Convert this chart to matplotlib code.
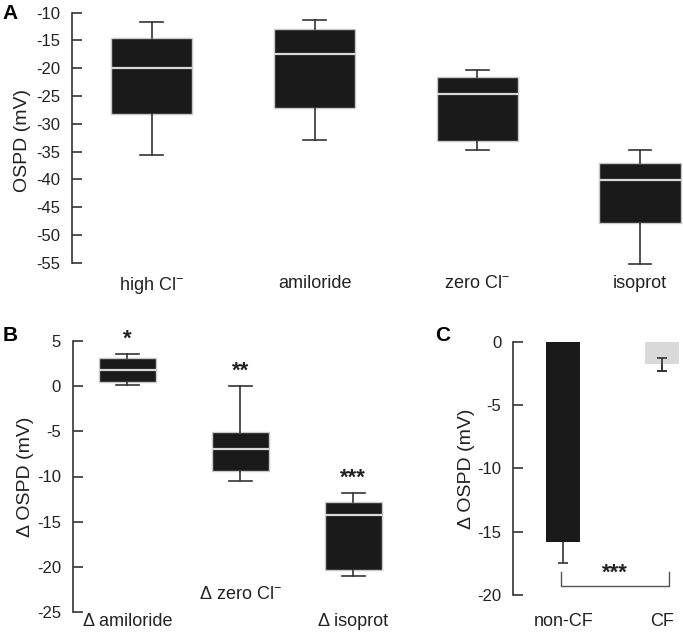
import matplotlib
matplotlib.use("Agg")
import matplotlib.pyplot as plt

plt.rcParams['font.family'] = ['Liberation Sans', 'DejaVu Sans']
plt.rcParams['mathtext.fontset'] = 'custom'
plt.rcParams['mathtext.rm'] = 'Liberation Sans'
plt.rcParams['mathtext.it'] = 'Liberation Sans'
plt.rcParams['mathtext.bf'] = 'Liberation Sans:bold'
plt.rcParams['mathtext.default'] = 'regular'

# ---------------- data ----------------
A_categories = ["high Cl$^{-}$", "amiloride", "zero Cl$^{-}$", "isoprot"]
A_whislo = [-35.6, -32.9, -34.8, -55.2]
A_q1 = [-28.2, -27.1, -33.1, -47.8]
A_med = [-20.0, -17.5, -24.6, -40.2]
A_q3 = [-14.5, -12.9, -21.5, -37.0]
A_whishi = [-11.6, -11.3, -20.3, -34.8]
A_yticks = [-10, -15, -20, -25, -30, -35, -40, -45, -50, -55]

B_categories = ["Δ amiloride", "Δ zero Cl$^{-}$", "Δ isoprot"]
B_whislo = [0.16, -10.5, -21.0]
B_q1 = [0.49, -9.4, -20.4]
B_med = [1.76, -7.0, -14.3]
B_q3 = [3.1, -5.1, -12.8]
B_whishi = [3.55, 0.0, -11.8]
B_stars = ["*", "**", "***"]
B_yticks = [5, 0, -5, -10, -15, -20, -25]

C_categories = ["non-CF", "CF"]
C_means = [-15.8, -1.8]
C_err = [1.7, 0.55]
C_colors = ["#1a1a1a", "#d9d9d9"]
C_sig = "***"
C_yticks = [0, -5, -10, -15, -20]

# ---------------- styling ----------------
W, H = 683, 632
fig = plt.figure(figsize=(W / 100, H / 100), dpi=100)
SPINE = "#333333"
BOXFILL = "#1a1a1a"
BOXEDGE = "#c8c8c8"
TICKFS = 12
CATFS = 13
LABFS = 14


def axes_px(left, top, right, bottom):
    return fig.add_axes([left / W, 1 - bottom / H, (right - left) / W, (bottom - top) / H])


def style_axis(ax, lo, hi, ticks):
    for s in ["top", "right", "bottom"]:
        ax.spines[s].set_visible(False)
    ax.spines["left"].set_color(SPINE)
    ax.spines["left"].set_linewidth(1.2)
    ax.spines["left"].set_bounds(lo, hi)
    ax.set_yticks(ticks)
    ax.set_yticklabels([f"{t}" for t in ticks])
    ax.tick_params(axis="y", direction="in", length=7.5, width=1.2, color=SPINE,
                   pad=8.5, labelsize=TICKFS, labelcolor="#222222")
    ax.set_facecolor("none")


def boxes(ax, whislo, q1, med, q3, whishi, capw):
    stats = []
    for i in range(len(med)):
        stats.append(dict(whislo=whislo[i], q1=q1[i], med=med[i], q3=q3[i],
                          whishi=whishi[i], fliers=[]))
    ax.bxp(stats, positions=list(range(len(med))), widths=0.5, patch_artist=True,
           showfliers=False, capwidths=capw,
           boxprops=dict(facecolor=BOXFILL, edgecolor=BOXEDGE, linewidth=1.0),
           medianprops=dict(color="#d8d8d8", linewidth=1.6),
           whiskerprops=dict(color=SPINE, linewidth=1.2),
           capprops=dict(color=SPINE, linewidth=1.2),
           manage_ticks=False)


# ---------------- Panel A ----------------
pxu = 250 / 45
axA = axes_px(72, 12.7, 683, 12.7 + 46 * pxu)
axA.set_ylim(-56, -10)
axA.set_xlim(-0.49, (683 - 152) / 162.7)
boxes(axA, A_whislo, A_q1, A_med, A_q3, A_whishi, 0.14)
style_axis(axA, -55, -10, A_yticks)
axA.set_xticks(range(len(A_categories)))
axA.set_xticklabels(A_categories, fontsize=CATFS, color="#222222")
axA.tick_params(axis="x", length=0, pad=5)
axA.set_ylabel("OSPD (mV)", fontsize=LABFS, color="#222222", labelpad=4)
fig.text(2 / W, 1 - 4 / H, "A", fontsize=15, fontweight="bold", va="top", ha="left")

# ---------------- Panel B ----------------
axB = axes_px(72.7, 341, 72.7 + (2.5 + 0.483) * 113, 612)
axB.set_ylim(-25, 5)
axB.set_xlim(-0.483, 2.5)
boxes(axB, B_whislo, B_q1, B_med, B_q3, B_whishi, 0.2)
style_axis(axB, -25, 5, B_yticks)
axB.set_xticks([])
label_y = [-26.0, -23.1, -26.0]
for i, (lab, star) in enumerate(zip(B_categories, B_stars)):
    axB.text(i, label_y[i], lab, ha="center", va="center", fontsize=CATFS,
             color="#222222", clip_on=False)
    axB.text(i, B_whishi[i] + 1.6, star, ha="center", va="center", fontsize=16,
             fontweight="bold", color="#222222", clip_on=False)
axB.set_ylabel("Δ OSPD (mV)", fontsize=LABFS, color="#222222", labelpad=2)
fig.text(3 / W, 1 - 326 / H, "B", fontsize=15, fontweight="bold", va="top", ha="left")

# ---------------- Panel C ----------------
axC = axes_px(513.3, 341.7, 683, 595)
axC.set_ylim(-20, 0)
axC.set_xlim(-0.505, (683 - 563) / 99)
xs = list(range(len(C_categories)))
axC.errorbar(xs, C_means, yerr=C_err, fmt="none", ecolor=SPINE, elinewidth=1.2,
             capsize=3.5, capthick=1.2, zorder=2)
bars = axC.bar(xs, C_means, width=0.34, color=C_colors, edgecolor="none", zorder=3)
axC.errorbar([xs[1]], [C_means[1]], yerr=[C_err[1]], fmt="none", ecolor=SPINE,
             elinewidth=1.2, capsize=3.5, capthick=1.2, zorder=4)
style_axis(axC, -20, 0, C_yticks)
axC.set_xticks([])
for i, lab in enumerate(C_categories):
    axC.text(i, -22.1, lab, ha="center", va="center", fontsize=CATFS,
             color="#222222", clip_on=False)
bx0, bx1, by0, by1 = -0.02, 1.07, -19.3, -18.2
axC.plot([bx0, bx0, bx1, bx1], [by1, by0, by0, by1], color="#555555", lw=1.0,
         clip_on=False)
axC.text((bx0 + bx1) / 2, -18.3, C_sig, ha="center", va="center", fontsize=16,
         fontweight="bold", color="#222222")
axC.set_ylabel("Δ OSPD (mV)", fontsize=LABFS, color="#222222", labelpad=2)
fig.text(435 / W, 1 - 326 / H, "C", fontsize=15, fontweight="bold", va="top", ha="left")

fig.savefig("out.png", dpi=100)
